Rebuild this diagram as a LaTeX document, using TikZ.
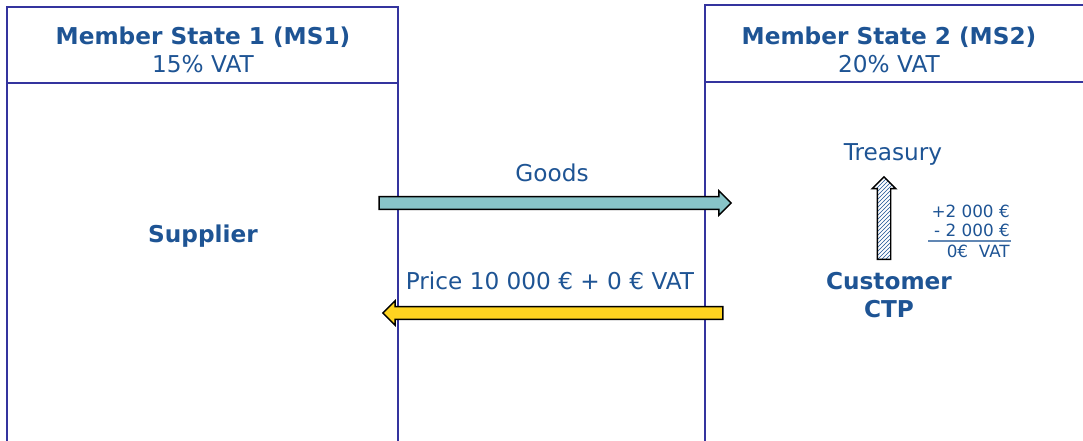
\documentclass[tikz,border=0pt]{standalone}
\usepackage{fontspec}
\setmainfont{DejaVu Sans}
\usetikzlibrary{arrows.meta,positioning,shapes.arrows,patterns}
\definecolor{msblue}{RGB}{30,84,148}
\definecolor{boxline}{RGB}{52,52,158}
\definecolor{goodsteal}{RGB}{136,196,200}
\definecolor{priceyellow}{RGB}{255,212,32}

\begin{document}
\begin{tikzpicture}[x=0.75pt,y=-0.75pt,
    txt/.style={text=msblue, font=\fontsize{17.4}{21}\selectfont, inner sep=0pt},
    boldtxt/.style={txt, font=\fontsize{17.4}{21}\selectfont\bfseries},
    smalltxt/.style={text=msblue, font=\fontsize{12.6}{15}\selectfont, inner sep=0pt, anchor=base east},
    flow/.style={single arrow, draw=black, line width=1.1pt, inner sep=4.2pt,
        single arrow head extend=4.4pt, single arrow tip angle=90, minimum width=0pt}]
        \useasboundingbox (0,0) rectangle (1083,441);

        % Member states
        \draw[boxline, line width=1.1pt] (7,441) -- (7,7) -- (398,7) -- (398,441);
        \draw[boxline, line width=1.1pt] (7,83) -- (398,83);
        \draw[boxline, line width=1.1pt] (1083,5) -- (705,5) -- (705,441);
        \draw[boxline, line width=1.1pt] (705,82) -- (1083,82);

        \node[txt, align=center] (ms1) at (203,50) {\textbf{Member State 1 (MS1)}\\15\% VAT};
        \node[txt, align=center] (ms2) at (889,50) {\textbf{Member State 2 (MS2)}\\20\% VAT};

        % Parties
        \node[boldtxt] (supplier) at (203,236) {Supplier};
        \node[boldtxt, align=center] (customer) at (889,295) {Customer\\CTP};
        \node[txt] (treasury) at (893,154) {Treasury};

        % Flows
        \node[flow, fill=goodsteal, minimum height=264pt] (goods) at (552,203) {};
        \node[txt, above=16pt of goods.center] (goodslab) {Goods};
        \node[flow, fill=priceyellow, minimum height=255pt, shape border rotate=180] (price) at (556,313) {};
        \node[txt, above=17pt of price.center, xshift=-4.5pt] (pricelab) {Price 10 000 € + 0 € VAT};

        % Reverse charge
        \node[flow, minimum height=62pt, shape border rotate=90, inner sep=4.5pt, single arrow head extend=3.8pt,
            preaction={fill=white}, pattern=north east lines, pattern color=msblue] (vat) at (884,221.5) {};
        \node[smalltxt] (plus) at (1010,218) {+2 000 €};
        \node[smalltxt] (minus) at (1010,237) {- 2 000 €};
        \node[smalltxt] (net) at (1010,258) {0€\ \ VAT};
        \draw[msblue!70, line width=1.2pt] (928,241) -- (1011,241);
    \end{tikzpicture}
\end{document}
